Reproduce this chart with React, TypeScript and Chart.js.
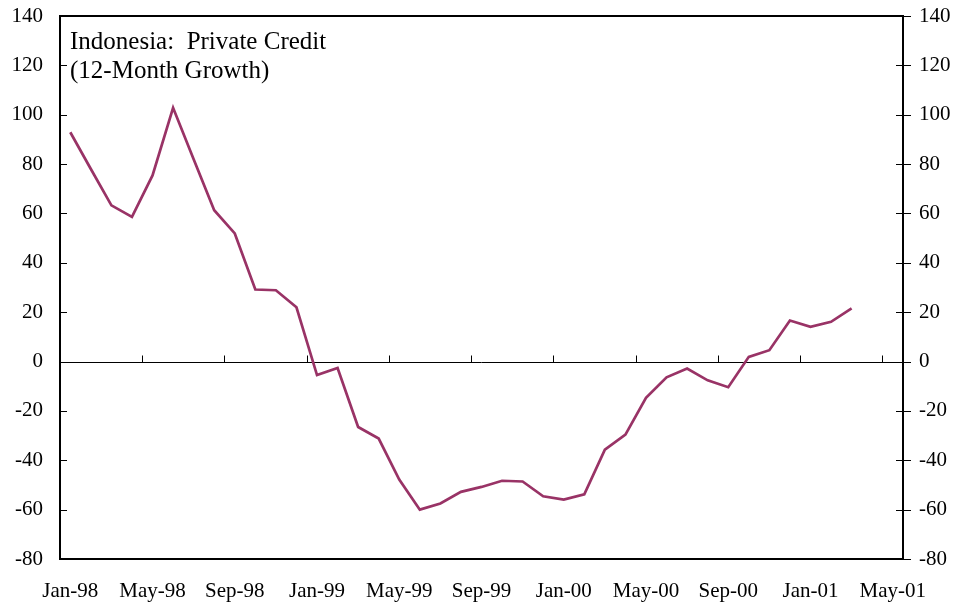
import React, { useEffect, useRef } from "react";
import { Chart, registerables } from "chart.js";

Chart.register(...registerables);

const monthLabels: string[] = [
  "Jan-98", "Feb-98", "Mar-98", "Apr-98", "May-98", "Jun-98", "Jul-98", "Aug-98", "Sep-98", "Oct-98", "Nov-98", "Dec-98",
  "Jan-99", "Feb-99", "Mar-99", "Apr-99", "May-99", "Jun-99", "Jul-99", "Aug-99", "Sep-99", "Oct-99", "Nov-99", "Dec-99",
  "Jan-00", "Feb-00", "Mar-00", "Apr-00", "May-00", "Jun-00", "Jul-00", "Aug-00", "Sep-00", "Oct-00", "Nov-00", "Dec-00",
  "Jan-01", "Feb-01", "Mar-01", "Apr-01", "May-01",
];

const tickLabels: string[] = ["Jan-98", "May-98", "Sep-98", "Jan-99", "May-99", "Sep-99", "Jan-00", "May-00", "Sep-00", "Jan-01", "May-01"];

const creditGrowth: number[] = [
  92.9, 78, 63.3, 58.6, 75.4, 102.8, 82, 61.3, 51.9, 29.2, 28.9, 22,
  -5.5, -2.6, -26.5, -31.2, -47.8, -60, -57.5, -52.8, -50.8, -48.3, -48.6, -54.6,
  -55.9, -53.8, -35.7, -29.6, -14.7, -6.4, -2.8, -7.6, -10.4, 1.9, 4.6, 16.6,
  14.1, 16.1, 21.5,
];

const yTicks: number[] = [-80, -60, -40, -20, 0, 20, 40, 60, 80, 100, 120, 140];

const titleLines: string[] = ["Indonesia:  Private Credit", "(12-Month Growth)"];

const FONT = "'Liberation Serif', 'Times New Roman', serif";

const decor = {
  id: "decor",
  beforeDatasetsDraw(chart: any) {
    const { ctx, chartArea, scales } = chart;
    const { left, right, top } = chartArea;
    const x = scales.x;
    const y = scales.y;
    const a = (v: number) => Math.round(v) + 0.5;
    const y0 = a(y.getPixelForValue(0));
    const step = x.getPixelForValue(1) - x.getPixelForValue(0);
    ctx.save();
    ctx.strokeStyle = "#000";
    ctx.lineWidth = 1;
    ctx.beginPath();
    ctx.moveTo(left, y0);
    ctx.lineTo(right, y0);
    for (let i = 4; i < monthLabels.length; i += 4) {
      const px = a(x.getPixelForValue(i) - step / 2);
      ctx.moveTo(px, y0);
      ctx.lineTo(px, y0 - 7);
    }
    yTicks.forEach((v) => {
      const py = a(y.getPixelForValue(v));
      ctx.moveTo(left, py);
      ctx.lineTo(left + 7, py);
      ctx.moveTo(right - 7, py);
      ctx.lineTo(right + 8, py);
    });
    ctx.stroke();
    ctx.lineWidth = 2;
    ctx.beginPath();
    ctx.moveTo(left, Math.round(top));
    ctx.lineTo(right, Math.round(top));
    ctx.stroke();
    ctx.restore();
  },
  afterDraw(chart: any) {
    const { ctx, chartArea } = chart;
    ctx.save();
    ctx.fillStyle = "#000";
    ctx.font = `25px ${FONT}`;
    ctx.textBaseline = "alphabetic";
    ctx.textAlign = "left";
    ctx.fillText(titleLines[0], chartArea.left + 10, 49);
    ctx.fillText(titleLines[1], chartArea.left + 10, 78);
    ctx.restore();
  },
};

export default function App() {
  const ref = useRef<HTMLCanvasElement | null>(null);
  useEffect(() => {
    if (!ref.current) return;
    const tickFont = { family: FONT, size: 21 };
    const fitY = (w: number) => (s: any) => {
      s.width = w;
      s.paddingTop = 0;
      s.paddingBottom = 0;
    };
    const chart = new Chart(ref.current, {
      type: "line",
      data: {
        labels: monthLabels,
        datasets: [
          {
            label: "Private Credit",
            data: creditGrowth,
            borderColor: "#993366",
            borderWidth: 2.7,
            pointRadius: 0,
            tension: 0,
            fill: false,
          },
        ],
      },
      options: {
        responsive: false,
        animation: false,
        layout: { padding: { top: 16, left: 0, right: 0, bottom: 0 } },
        plugins: { legend: { display: false }, tooltip: { enabled: false }, title: { display: false } },
        scales: {
          x: {
            type: "category",
            offset: true,
            grid: { display: false, drawTicks: false },
            border: { display: true, color: "#000", width: 2 },
            ticks: {
              autoSkip: false,
              maxRotation: 0,
              minRotation: 0,
              padding: 20,
              color: "#000",
              font: tickFont,
              callback: (_v: any, i: number) => (i % 4 === 0 ? tickLabels[i / 4] : ""),
            },
            afterFit: (s: any) => {
              s.height = 49;
            },
          },
          y: {
            position: "left",
            min: -80,
            max: 140,
            grid: { display: false, drawTicks: false },
            border: { display: true, color: "#000", width: 2 },
            ticks: { stepSize: 20, padding: 17, color: "#000", font: tickFont },
            afterFit: fitY(60),
          },
          y1: {
            position: "right",
            min: -80,
            max: 140,
            grid: { display: false, drawTicks: false },
            border: { display: true, color: "#000", width: 2 },
            ticks: { stepSize: 20, padding: 16, color: "#000", font: tickFont },
            afterFit: fitY(53),
          },
        },
      },
      plugins: [decor],
    });
    return () => chart.destroy();
  }, []);
  return (
    <div style={{ position: "fixed", left: 0, top: 0, width: 956, height: 608, background: "#fff" }}>
      <canvas ref={ref} width={956} height={608} />
    </div>
  );
}
